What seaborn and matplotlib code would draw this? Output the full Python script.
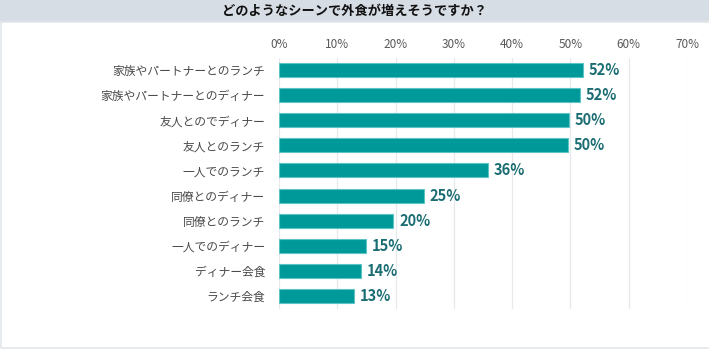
import pandas as pd
import matplotlib
matplotlib.use('Agg')
import matplotlib.pyplot as plt
import seaborn as sns
from matplotlib.patches import Rectangle

# データ
scenes = ['家族やパートナーとのランチ', '家族やパートナーとのディナー', '友人とのでディナー', '友人とのランチ',
          '一人でのランチ', '同僚とのディナー', '同僚とのランチ', '一人でのディナー', 'ディナー会食', 'ランチ会食']
values = [52.1, 51.6, 49.8, 49.6, 35.8, 24.8, 19.6, 14.9, 14.1, 12.8]
labels = ['52%', '52%', '50%', '50%', '36%', '25%', '20%', '15%', '14%', '13%']
ticks = [0, 10, 20, 30, 40, 50, 60, 70]

sns.set_style('white')
plt.rcParams['font.family'] = ['Noto Sans CJK JP', 'DejaVu Sans']

df = pd.DataFrame({'scene': scenes, 'value': values})

fig = plt.figure(figsize=(7.09, 3.56), dpi=100)
# タイトル帯
fig.patches.append(Rectangle((0, 1 - 22 / 356), 1, 22 / 356, transform=fig.transFigure,
                             facecolor='#d7dde5', edgecolor='none', zorder=0))
fig.text(0.5, 1 - 11 / 356, 'どのようなシーンで外食が増えそうですか？', ha='center', va='center',
         fontsize=9.5, fontweight='bold', color='#111111')
# 枠線
fig.patches.append(Rectangle((0.001, 1 - 348 / 356), 1.2, (348 - 22) / 356, transform=fig.transFigure,
                             facecolor='none', edgecolor='#e3e6ea', linewidth=1.2, zorder=0))

ax = fig.add_axes([279 / 709, 1 - 308.5 / 356, (687 - 279) / 709, (308.5 - 57.5) / 356])
sns.barplot(data=df, x='value', y='scene', ax=ax, color='#009999', width=0.56,
            edgecolor='#5cc4c4', linewidth=0.8, saturation=1, zorder=3)

ax.set_xlim(0, 70)
ax.set_xticks(ticks)
ax.set_xticklabels([f'{t}%' for t in ticks], fontsize=8.5, color='#595959')
ax.xaxis.tick_top()
ax.tick_params(axis='x', length=0, pad=5)
ax.tick_params(axis='y', length=0, pad=10, labelsize=8.5, labelcolor='#4a4a4a')
ax.grid(axis='x', color='#e6e8ec', linewidth=0.9, zorder=0)
ax.set_xlabel('')
ax.set_ylabel('')
for s in ax.spines.values():
    s.set_visible(False)

for i, (v, lab) in enumerate(zip(values, labels)):
    ax.text(v + 1.0, i, lab, va='center', ha='left', fontsize=10.5, fontweight='bold',
            color='#1b6d74', zorder=4)

fig.savefig('out.png', dpi=100)
